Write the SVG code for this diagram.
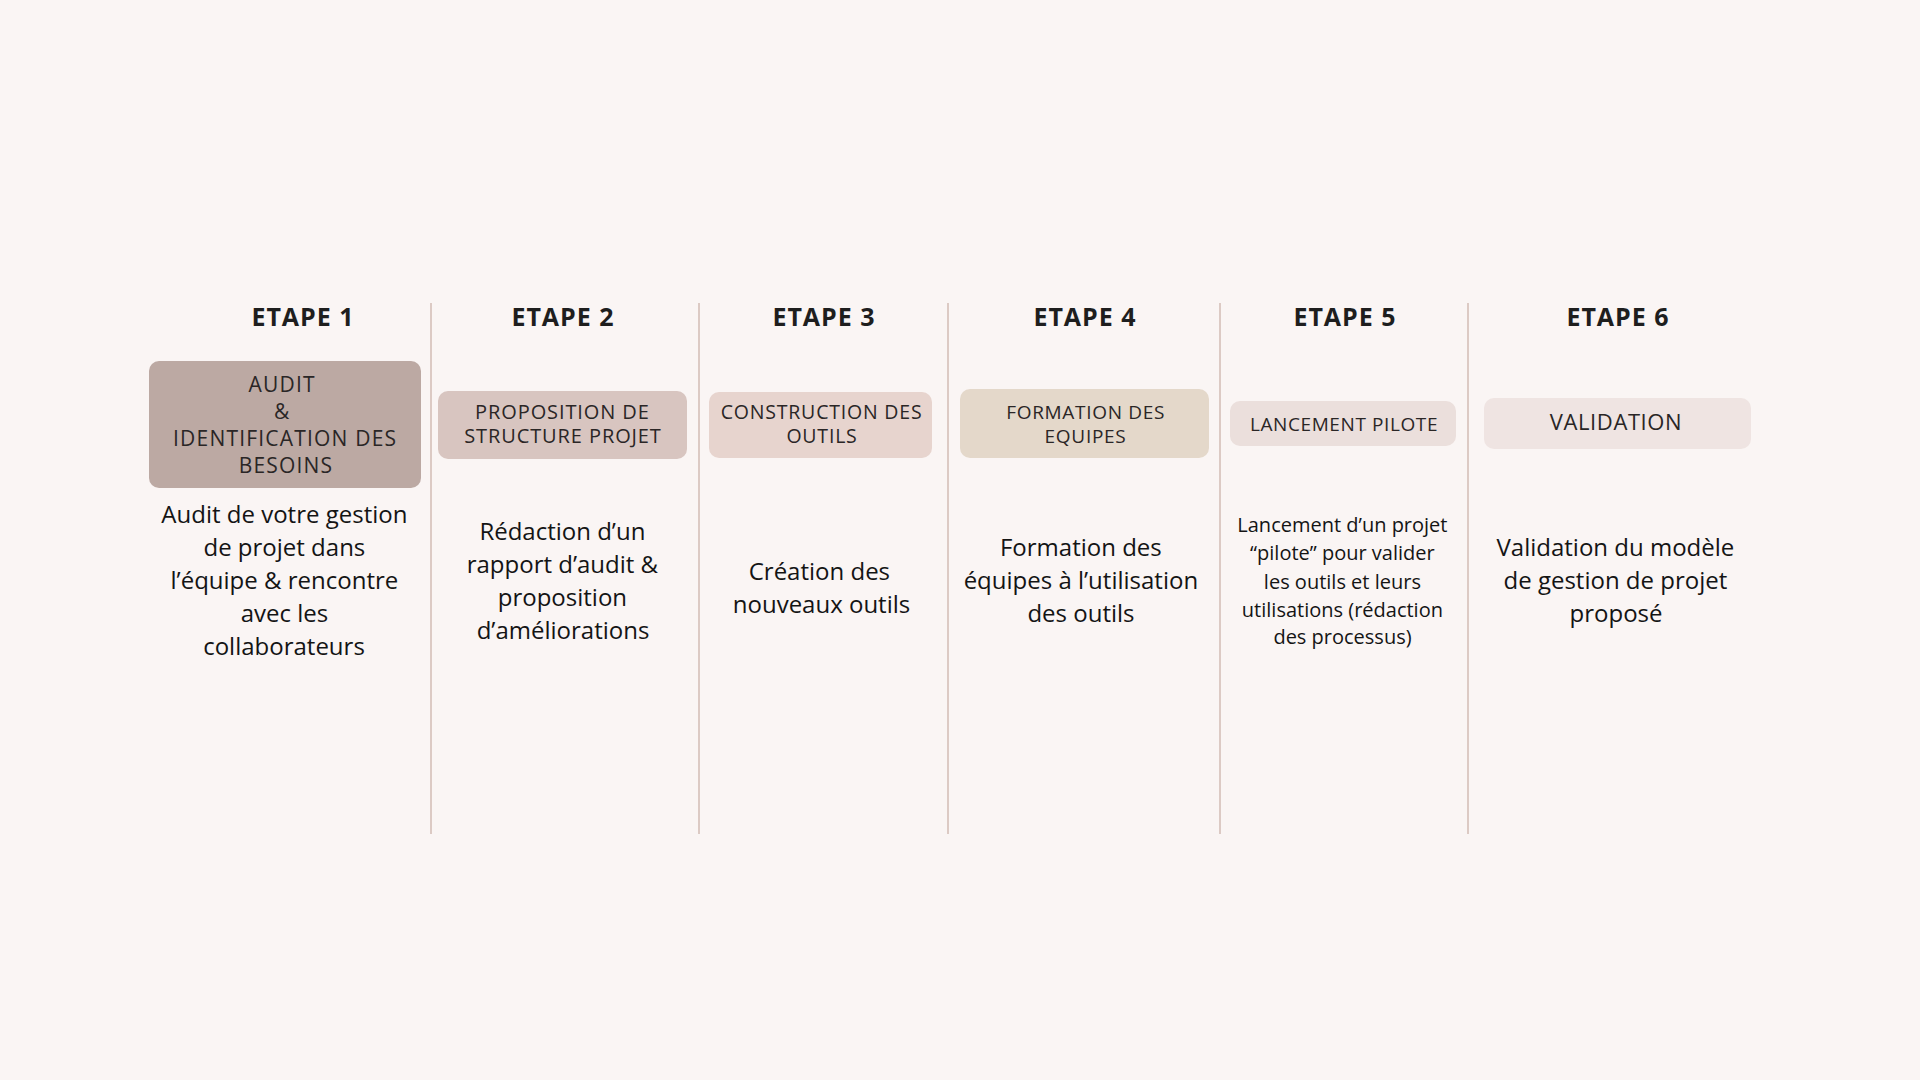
<svg xmlns="http://www.w3.org/2000/svg" width="1920" height="1080" viewBox="0 0 1920 1080">
<style>
.bg{fill:#faf5f4}
.sep{stroke:#dccac4;stroke-width:2;fill:none}
.title{font-family:"Open Sans","Liberation Sans",sans-serif;font-weight:700;font-size:25px;letter-spacing:1px;fill:#1e1e1e;text-anchor:middle}
.lab{font-family:"Open Sans","Liberation Sans",sans-serif;font-weight:400;fill:#2a2626;text-anchor:middle}
.desc{font-family:"Open Sans","Liberation Sans",sans-serif;font-weight:400;font-size:24px;fill:#141414;text-anchor:middle}
.small{font-size:20px}
</style>
<rect class="bg" x="0" y="0" width="1920" height="1080"/>
<g id="connectors">
<line class="sep" x1="431" y1="303" x2="431" y2="834"/>
<line class="sep" x1="699" y1="303" x2="699" y2="834"/>
<line class="sep" x1="948" y1="303" x2="948" y2="834"/>
<line class="sep" x1="1220" y1="303" x2="1220" y2="834"/>
<line class="sep" x1="1468" y1="303" x2="1468" y2="834"/>
</g>
<g id="step1">
<text class="title" x="303" y="326">ETAPE 1</text>
<rect x="149" y="361" width="272" height="127" rx="10" fill="#bca9a3"/>
<text class="lab" font-size="21" letter-spacing="1.2">
<tspan x="285.5" y="392">AUDIT</tspan>
<tspan x="285.5" y="419">&amp;</tspan>
<tspan x="288.5" y="446">IDENTIFICATION DES</tspan>
<tspan x="286" y="473">BESOINS</tspan>
</text>
<text class="desc">
<tspan x="287.5" y="523">Audit de votre gestion</tspan>
<tspan x="287.5" y="556">de projet dans</tspan>
<tspan x="287.5" y="589">l’équipe &amp; rencontre</tspan>
<tspan x="287.5" y="622">avec les</tspan>
<tspan x="284" y="655">collaborateurs</tspan>
</text>
</g>
<g id="step2">
<text class="title" x="563" y="326">ETAPE 2</text>
<rect x="438" y="391" width="249" height="68" rx="10" fill="#d8c5c0"/>
<text class="lab" font-size="20" letter-spacing="0.9">
<tspan x="565.5" y="419">PROPOSITION DE</tspan>
<tspan x="563" y="443">STRUCTURE PROJET</tspan>
</text>
<text class="desc">
<tspan x="565.5" y="540">Rédaction d’un</tspan>
<tspan x="565.5" y="573">rapport d’audit &amp;</tspan>
<tspan x="565.5" y="606">proposition</tspan>
<tspan x="563" y="639">d’améliorations</tspan>
</text>
</g>
<g id="step3">
<text class="title" x="824" y="326">ETAPE 3</text>
<rect x="709" y="392" width="223" height="66" rx="10" fill="#e7d4ce"/>
<text class="lab" font-size="19.5" letter-spacing="0.8">
<tspan x="824.5" y="419">CONSTRUCTION DES</tspan>
<tspan x="822" y="443">OUTILS</tspan>
</text>
<text class="desc" font-size="24.8">
<tspan x="822.5" y="580">Création des</tspan>
<tspan x="821.5" y="613">nouveaux outils</tspan>
</text>
</g>
<g id="step4">
<text class="title" x="1085" y="326">ETAPE 4</text>
<rect x="960" y="389" width="249" height="69" rx="10" fill="#e4d8ca"/>
<text class="lab" font-size="19" letter-spacing="0.7">
<tspan x="1088.5" y="419">FORMATION DES</tspan>
<tspan x="1085.5" y="443">EQUIPES</tspan>
</text>
<text class="desc">
<tspan x="1084" y="556">Formation des</tspan>
<tspan x="1084" y="589">équipes à l’utilisation</tspan>
<tspan x="1081" y="622">des outils</tspan>
</text>
</g>
<g id="step5">
<text class="title" x="1345" y="326">ETAPE 5</text>
<rect x="1230" y="401" width="226" height="45" rx="10" fill="#ebdfdc"/>
<text class="lab" font-size="19" letter-spacing="0.6" x="1344" y="431">LANCEMENT PILOTE</text>
<text class="desc small">
<tspan x="1345" y="532">Lancement d’un projet</tspan>
<tspan x="1345" y="560">“pilote” pour valider</tspan>
<tspan x="1345" y="588.5">les outils et leurs</tspan>
<tspan x="1345" y="616.5">utilisations (rédaction</tspan>
<tspan x="1342.5" y="644">des processus)</tspan>
</text>
</g>
<g id="step6">
<text class="title" x="1618" y="326">ETAPE 6</text>
<rect x="1484" y="398" width="267" height="51" rx="10" fill="#efe4e2"/>
<text class="lab" font-size="22" letter-spacing="0.6" x="1616" y="430">VALIDATION</text>
<text class="desc">
<tspan x="1618.5" y="556">Validation du modèle</tspan>
<tspan x="1618.5" y="589">de gestion de projet</tspan>
<tspan x="1616" y="622">proposé</tspan>
</text>
</g>
</svg>
